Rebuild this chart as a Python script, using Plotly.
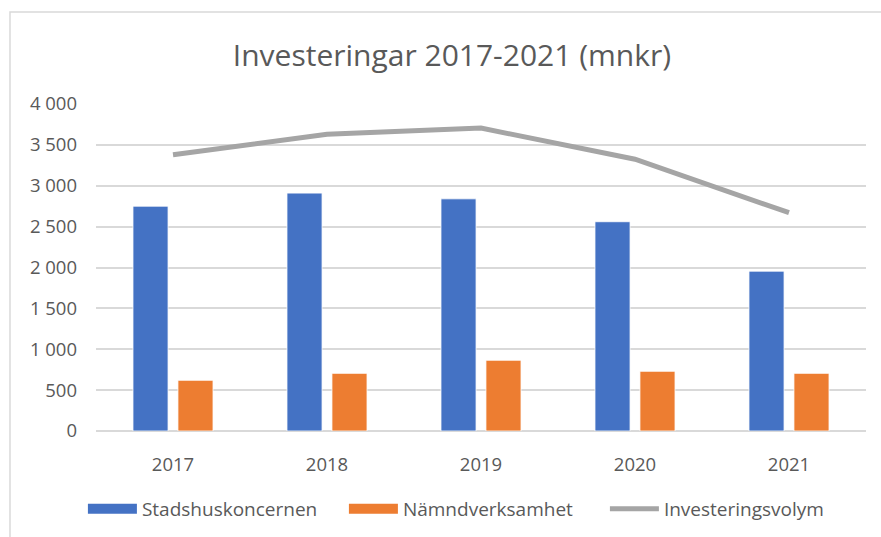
import plotly.graph_objects as go

years = ["2017", "2018", "2019", "2020", "2021"]
stadshus = [2750, 2910, 2840, 2560, 1955]
namnd = [620, 705, 865, 730, 705]
volym = [3380, 3630, 3705, 3325, 2670]

BLUE = "#4472C4"
ORANGE = "#ED7D31"
GRAY = "#A5A5A5"
TXT = "#595959"
FONT = "Open Sans"

fig = go.Figure()
fig.add_trace(go.Bar(x=years, y=stadshus, name="Stadshuskoncernen", marker=dict(color=BLUE, line=dict(color="white", width=0.8)), showlegend=False))
fig.add_trace(go.Bar(x=years, y=namnd, name="Nämndverksamhet", marker=dict(color=ORANGE, line=dict(color="white", width=0.8)), showlegend=False))
fig.add_trace(go.Scatter(x=years, y=volym, name="Investeringsvolym", mode="lines", line=dict(color=GRAY, width=5), showlegend=False))
# legend proxies
fig.add_trace(go.Scatter(x=[None], y=[None], mode="lines", name="Stadshuskoncernen", line=dict(color=BLUE, width=12)))
fig.add_trace(go.Scatter(x=[None], y=[None], mode="lines", name="Nämndverksamhet", line=dict(color=ORANGE, width=12)))
fig.add_trace(go.Scatter(x=[None], y=[None], mode="lines", name="Investeringsvolym", line=dict(color=GRAY, width=5)))

fig.update_layout(
    width=881, height=537,
    margin=dict(l=96, r=15, t=104, b=106, autoexpand=False),
    paper_bgcolor="white", plot_bgcolor="white",
    font=dict(family=FONT, color=TXT, size=18.5),
    title=dict(text="Investeringar 2017-2021 (mnkr)", x=0.513, xanchor="center", y=0.897, yanchor="middle",
               font=dict(size=30, color=TXT, family=FONT)),
    barmode="group", bargap=0.416, bargroupgap=0.22,
    legend=dict(orientation="h", x=-0.017, xanchor="left", y=-0.238, yanchor="middle",
                font=dict(size=19, color=TXT, family=FONT), itemwidth=49, entrywidth=197,
                traceorder="normal"),
    xaxis=dict(type="category", showgrid=False, showline=False, ticks="", ticklabelstandoff=20,
               automargin=False, tickfont=dict(size=18.5, color=TXT)),
    yaxis=dict(range=[0, 4000], dtick=500, showgrid=True, gridcolor="#D9D9D9", gridwidth=1.5,
               zeroline=True, zerolinecolor="#D9D9D9", zerolinewidth=1.5, showline=False, ticks="",
               tickformat=",d", ticklabelstandoff=18, automargin=False,
               tickfont=dict(size=18.5, color=TXT)),
    separators=". ",
    shapes=[dict(type="rect", xref="paper", yref="paper", x0=-0.1117, x1=2, y0=-2, y1=1.281,
                 line=dict(color="#D9D9D9", width=1.5), layer="below")],
)

fig.write_html("out.html", config={"displayModeBar": False},
               post_script="document.body.style.margin='0';document.body.style.padding='0';")
